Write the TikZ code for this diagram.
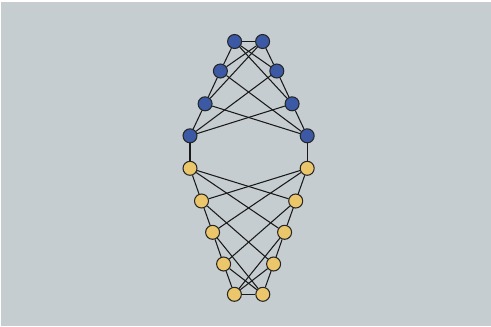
\documentclass[tikz,border=0pt]{standalone}
\usepackage{tikz}
\usetikzlibrary{positioning}
\definecolor{bgslate}{RGB}{197,205,208}
\definecolor{nodeblue}{RGB}{59,89,165}
\definecolor{nodegold}{RGB}{235,198,106}
\tikzset{
    % vertices
    bvert/.style={circle, draw=black!85, line width=0.6pt, fill=nodeblue,
                 minimum size=0.28cm, inner sep=0pt},
    yvert/.style={circle, draw=black!85, line width=0.6pt, fill=nodegold,
                 minimum size=0.28cm, inner sep=0pt},
    % edges
    gedge/.style={draw=black!90, line width=0.6pt},
}
\begin{document}
\begin{tikzpicture}[x=0.02cm, y=-0.02cm]
% Background
\fill[white] (0,0) rectangle (491,326);
\fill[bgslate] (1.5,1.5) rectangle (491,326);
\useasboundingbox (0,0) rectangle (491,326);

% Blue half
\node[bvert] (b1l) at (234.6,41.5) {};
\node[bvert] (b1r) at (262.6,41.5) {};
\node[bvert] (b2l) at (220.4,71) {};
\node[bvert] (b2r) at (276.8,71) {};
\node[bvert] (b3l) at (205.1,103.8) {};
\node[bvert] (b3r) at (292.1,103.8) {};
\node[bvert] (b4l) at (190,135.8) {};
\node[bvert] (b4r) at (307.2,135.8) {};

% Yellow half
\node[yvert] (y1l) at (190,168.3) {};
\node[yvert] (y1r) at (307.2,168.3) {};
\node[yvert] (y2l) at (201.5,201) {};
\node[yvert] (y2r) at (295.7,201) {};
\node[yvert] (y3l) at (212.6,232.3) {};
\node[yvert] (y3r) at (284.6,232.3) {};
\node[yvert] (y4l) at (223.6,264) {};
\node[yvert] (y4r) at (273.6,264) {};
\node[yvert] (y5l) at (234.4,294.3) {};
\node[yvert] (y5r) at (262.8,294.3) {};

% Blue edges
\draw[gedge] (b1l) -- (b1r);
\draw[gedge] (b1l) -- (b2l);
\draw[gedge] (b1r) -- (b2r);
\draw[gedge] (b1l) -- (b2r);
\draw[gedge] (b1r) -- (b2l);
\draw[gedge] (b1l) -- (b3r);
\draw[gedge] (b1r) -- (b3l);
\draw[gedge] (b2l) -- (b3l);
\draw[gedge] (b2r) -- (b3r);
\draw[gedge] (b2l) -- (b4r);
\draw[gedge] (b2r) -- (b4l);
\draw[gedge] (b3l) -- (b4l);
\draw[gedge] (b3r) -- (b4r);
\draw[gedge] (b3l) -- (b4r);
\draw[gedge] (b3r) -- (b4l);

% Blue -> Yellow
\draw[gedge] (b4l) -- (y1l);
\draw[gedge] (b4r) -- (y1r);

% Yellow edges
\draw[gedge] (y1l) -- (y2l);
\draw[gedge] (y1r) -- (y2r);
\draw[gedge] (y1l) -- (y2r);
\draw[gedge] (y1r) -- (y2l);
\draw[gedge] (y1l) -- (y3r);
\draw[gedge] (y1r) -- (y3l);
\draw[gedge] (y2l) -- (y3l);
\draw[gedge] (y2r) -- (y3r);
\draw[gedge] (y2l) -- (y4r);
\draw[gedge] (y2r) -- (y4l);
\draw[gedge] (y3l) -- (y4l);
\draw[gedge] (y3r) -- (y4r);
\draw[gedge] (y3l) -- (y5r);
\draw[gedge] (y3r) -- (y5l);
\draw[gedge] (y4l) -- (y5l);
\draw[gedge] (y4r) -- (y5r);
\draw[gedge] (y4l) -- (y5r);
\draw[gedge] (y4r) -- (y5l);
\draw[gedge] (y5l) -- (y5r);

\end{tikzpicture}
\end{document}
